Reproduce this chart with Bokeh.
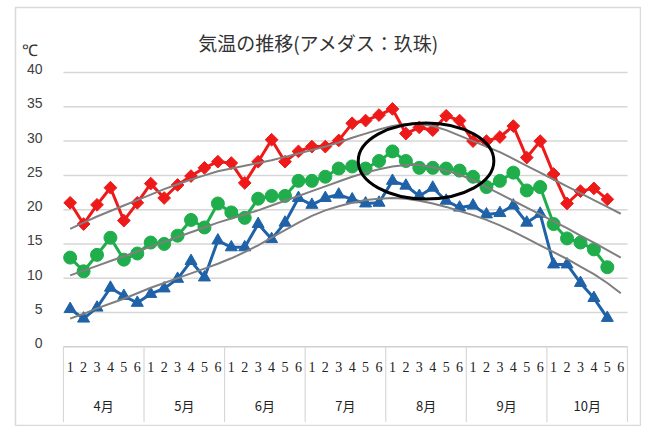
import math
from bokeh.plotting import figure
from bokeh.models import Range1d
from bokeh.core.properties import value
from bokeh.embed import file_html
from bokeh.resources import INLINE

# ---- data ----
months = ["4月", "5月", "6月", "7月", "8月", "9月", "10月"]
pentads = ["1", "2", "3", "4", "5", "6"]
y_ticks = [0, 5, 10, 15, 20, 25, 30, 35, 40]

# observed (半旬) max / mean / min temperatures
t_max = [21.0, 17.9, 20.7, 23.2, 18.4, 21.0, 23.8, 21.7, 23.6, 24.9, 26.1, 27.0,
         26.8, 23.9, 27.0, 30.2, 27.0, 28.5, 29.2, 29.2, 30.1, 32.6, 33.0, 33.8,
         34.7, 31.1, 32.0, 31.6, 33.7, 33.0, 30.0, 30.0, 30.6, 32.2, 27.6, 30.0,
         25.2, 20.9, 22.7, 23.1, 21.5]
t_mean = [13.0, 11.0, 13.4, 15.9, 12.7, 13.6, 15.2, 15.0, 16.2, 18.5, 17.4, 20.9,
          19.6, 18.8, 21.6, 22.0, 22.0, 24.2, 24.2, 24.8, 26.0, 26.3, 26.0, 27.1,
          28.5, 27.1, 26.1, 26.1, 26.0, 25.7, 24.8, 23.3, 24.2, 25.4, 22.8, 23.3,
          17.9, 15.8, 15.2, 14.2, 11.6]
t_min = [5.5, 4.1, 5.7, 8.6, 7.4, 6.4, 7.7, 8.5, 9.9, 12.5, 10.1, 15.5,
         14.5, 14.5, 17.9, 15.7, 18.1, 21.7, 20.7, 21.7, 22.2, 21.5, 20.9, 21.0,
         24.2, 23.5, 22.0, 23.2, 21.3, 20.3, 20.6, 19.3, 19.5, 20.6, 18.1, 19.4,
         12.0, 12.0, 9.3, 7.1, 4.2]

# normal values (平年値)
n_max = [17.2, 18.1, 19.0, 19.8, 20.6, 21.4, 22.2, 23.0, 23.7, 24.4, 25.0, 25.6,
         26.0, 26.4, 26.8, 27.2, 27.7, 28.2, 28.7, 29.2, 29.8, 30.5, 31.1, 31.7,
         32.2, 32.5, 32.5, 32.2, 31.6, 30.8, 30.0, 29.2, 28.4, 27.4, 26.4, 25.4,
         24.4, 23.4, 22.4, 21.4, 20.4, 19.4]
n_mean = [10.4, 11.1, 11.8, 12.5, 13.2, 13.9, 14.6, 15.3, 16.0, 16.7, 17.4, 18.1,
          18.7, 19.3, 19.9, 20.6, 21.3, 22.0, 22.7, 23.4, 24.1, 24.8, 25.4, 25.9,
          26.3, 26.5, 26.5, 26.2, 25.7, 25.1, 24.3, 23.3, 22.3, 21.3, 20.3, 19.3,
          18.3, 17.3, 16.2, 15.2, 14.1, 13.0]
n_min = [4.1, 4.8, 5.6, 6.3, 7.0, 7.8, 8.6, 9.3, 10.0, 10.7, 11.4, 12.1,
         12.9, 13.8, 14.8, 15.9, 17.0, 18.1, 19.1, 19.9, 20.5, 21.0, 21.4, 21.6,
         21.7, 21.6, 21.3, 20.9, 20.4, 19.8, 19.2, 18.5, 17.7, 16.8, 15.8, 14.8,
         13.8, 12.8, 11.7, 10.6, 9.3, 7.8]

# highlighted period (8月 前半) – ellipse centre / extent in pentad index & °C
mark_center = (27.0, 27.1)
mark_size = (10.1, 11.1)

title_text = "気温の推移(アメダス：玖珠)"
unit_text = "℃"

# ---- figure (frame = chart border; axis area drawn in data space) ----
n_cat = len(months) * len(pentads)
x_lo, x_hi = -3.57, n_cat + 0.97
y_lo, y_hi = -11.5, 49.5
p = figure(width=641, height=426, output_backend="svg", toolbar_location=None,
           x_range=Range1d(x_lo, x_hi), y_range=Range1d(y_lo, y_hi),
           x_axis_type=None, y_axis_type=None,
           min_border_left=15, min_border_top=7, min_border_right=1,
           min_border_bottom=1)
p.outline_line_color = "#d9d9d9"
p.outline_line_width = 1.5
p.background_fill_color = "white"
p.border_fill_color = "white"
p.xgrid.visible = False
p.ygrid.visible = False

# horizontal gridlines (value axis)
grid_y = [t for t in y_ticks if t > 0]
p.segment(x0=[0] * len(grid_y), y0=grid_y, x1=[n_cat] * len(grid_y), y1=grid_y,
          line_color="#d6d6d6", line_width=1.5)
# value axis tick labels
p.text(x=[-1.55] * len(y_ticks), y=[t + 0.5 for t in y_ticks],
       text=[str(t) for t in y_ticks], text_align="right", text_baseline="middle",
       text_font=value("Liberation Sans"), text_font_size="14px",
       text_color="#404040")

# category axis table (below y=0)
bounds = [i * len(pentads) for i in range(len(months) + 1)]
p.segment(x0=[0], y0=[0], x1=[n_cat], y1=[0], line_color="#d0d0d0", line_width=1.5)
p.segment(x0=bounds, y0=[0] * len(bounds), x1=bounds, y1=[-11.0] * len(bounds),
          line_color="#d8d8d8", line_width=1.2)

px = [i + 0.5 for i in range(n_cat)]
ptxt = [pentads[i % len(pentads)] for i in range(n_cat)]
p.text(x=px, y=[-2.9] * n_cat, text=ptxt, text_align="center", text_baseline="middle",
       text_font=value("Liberation Serif"), text_font_size="14px", text_color="#222222")
mx = [i * len(pentads) + len(pentads) / 2 for i in range(len(months))]
p.text(x=mx, y=[-8.6] * len(months), text=months, text_align="center",
       text_baseline="middle", text_font=value("Noto Sans CJK JP"),
       text_font_size="13px", text_color="#222222")

# observed series
xo = [i + 0.5 for i in range(len(t_max))]
red, green, blue = "#ee1a1a", "#1fae4b", "#1f62a8"
p.line(xo, t_max, line_color=red, line_width=3)
p.scatter(xo, t_max, marker="square", angle=math.pi / 4, size=9,
          fill_color=red, line_color=red)
p.line(xo, t_mean, line_color=green, line_width=3)
p.scatter(xo, t_mean, marker="circle", size=13, fill_color=green, line_color=green)
p.line(xo, t_min, line_color=blue, line_width=3)
p.scatter(xo, t_min, marker="triangle", size=12, fill_color=blue, line_color=blue)

# normals
xn = [i + 0.5 for i in range(len(n_max))]
for ser in (n_max, n_mean, n_min):
    p.line(xn, ser, line_color="#7f7f7f", line_width=2)

# highlight ellipse
p.ellipse(x=[mark_center[0]], y=[mark_center[1]], width=[mark_size[0]],
          height=[mark_size[1]], fill_color=None, line_color="black", line_width=3)

# title and unit
p.text(x=[19.0], y=[44.4], text=[title_text], text_align="center",
       text_baseline="middle", text_font=value("Noto Sans CJK JP"),
       text_font_size="19px", text_color="#333333")
p.text(x=[-2.5], y=[43.2], text=[unit_text], text_align="center",
       text_baseline="middle", text_font=value("Liberation Sans"),
       text_font_size="16px", text_color="#333333")

open("out.html", "w").write(file_html(p, INLINE))
